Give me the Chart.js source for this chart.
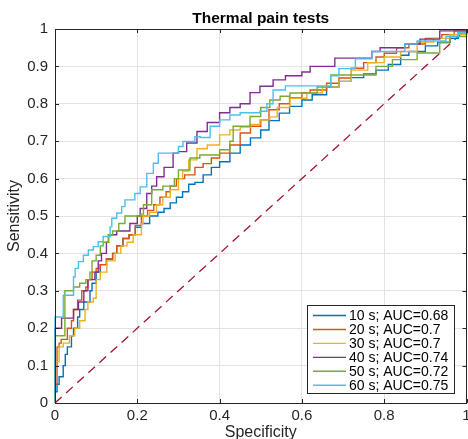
<!DOCTYPE html>
<html>
<head>
<meta charset="utf-8">
<script src="https://cdn.jsdelivr.net/npm/chart.js@4/dist/chart.umd.min.js"></script>
<style>
html,body{margin:0;padding:0;background:#fff;}
canvas{display:block;}
</style>
</head>
<body>
<canvas id="c" width="468" height="439"></canvas>
<script>
// ---- chart text ----
const chartTitle = "Thermal pain tests";
const xTitle = "Specificity";
const yTitle = "Sensitivity";
const seriesLabels = ["10 s; AUC=0.68", "20 s; AUC=0.7", "30 s; AUC=0.7", "40 s; AUC=0.74", "50 s; AUC=0.72", "60 s; AUC=0.75"];
const seriesColors = ["#0072BD", "#D95319", "#EDB120", "#7E2F8E", "#77AC30", "#4DBEEE"];
const xTicks = [0, 0.2, 0.4, 0.6, 0.8, 1];
const yTicks = [0, 0.1, 0.2, 0.3, 0.4, 0.5, 0.6, 0.7, 0.8, 0.9, 1];

// ---- ROC curves (x = horizontal axis value, y = sensitivity) ----
const x10 = [0,0,0.005,0.01,0.02,0.025,0.03,0.04,0.045,0.055,0.06,0.07,0.085,0.09,0.10,0.11,0.125,0.14,0.15,0.165,0.18,0.195,0.21,0.23,0.25,0.265,0.28,0.295,0.31,0.325,0.34,0.36,0.38,0.40,0.425,0.45,0.475,0.50,0.52,0.545,0.57,0.60,0.625,0.66,0.69,0.72,0.75,0.78,0.81,0.84,0.86,0.90,0.93,0.96,0.98,1];
const y10 = [0,0.03,0.05,0.07,0.10,0.13,0.15,0.18,0.20,0.23,0.25,0.27,0.30,0.32,0.35,0.37,0.385,0.40,0.42,0.44,0.45,0.47,0.48,0.50,0.51,0.52,0.535,0.55,0.565,0.585,0.59,0.61,0.63,0.645,0.668,0.69,0.709,0.73,0.755,0.775,0.793,0.81,0.824,0.845,0.86,0.87,0.88,0.89,0.905,0.93,0.94,0.955,0.965,0.975,0.99,1];

const x20 = [0,0,0.005,0.01,0.015,0.03,0.04,0.045,0.055,0.065,0.075,0.08,0.09,0.10,0.11,0.125,0.14,0.15,0.165,0.18,0.195,0.21,0.225,0.24,0.255,0.27,0.28,0.295,0.315,0.34,0.36,0.38,0.40,0.425,0.45,0.475,0.50,0.52,0.545,0.57,0.60,0.62,0.66,0.69,0.72,0.75,0.78,0.80,0.83,0.86,0.90,0.94,0.97,1];
const y20 = [0,0.05,0.15,0.16,0.17,0.20,0.22,0.25,0.275,0.30,0.31,0.33,0.35,0.36,0.37,0.385,0.40,0.42,0.44,0.45,0.475,0.50,0.515,0.53,0.55,0.565,0.58,0.60,0.61,0.63,0.64,0.655,0.668,0.69,0.722,0.74,0.757,0.784,0.80,0.816,0.83,0.837,0.855,0.869,0.895,0.91,0.925,0.935,0.95,0.96,0.975,0.985,0.995,1];

const x30 = [0,0,0.01,0.02,0.035,0.048,0.06,0.073,0.08,0.093,0.10,0.11,0.126,0.146,0.16,0.175,0.19,0.21,0.214,0.23,0.247,0.262,0.28,0.30,0.31,0.325,0.345,0.37,0.40,0.425,0.45,0.475,0.498,0.522,0.54,0.571,0.612,0.65,0.69,0.72,0.76,0.80,0.84,0.88,0.92,0.96,1];
const y30 = [0,0.11,0.15,0.16,0.18,0.20,0.22,0.25,0.27,0.28,0.33,0.35,0.38,0.40,0.42,0.43,0.45,0.48,0.50,0.51,0.53,0.55,0.57,0.60,0.62,0.65,0.68,0.69,0.717,0.73,0.738,0.745,0.757,0.765,0.79,0.815,0.829,0.845,0.86,0.89,0.91,0.925,0.94,0.965,0.975,0.985,1];

const x40 = [0,0,0.016,0.04,0.045,0.057,0.07,0.08,0.097,0.105,0.113,0.125,0.13,0.15,0.182,0.2,0.207,0.223,0.235,0.247,0.265,0.287,0.30,0.32,0.345,0.37,0.40,0.425,0.45,0.474,0.498,0.53,0.56,0.60,0.62,0.68,0.77,0.79,0.85,0.887,0.935,1];
const y40 = [0,0.20,0.227,0.227,0.25,0.27,0.30,0.33,0.35,0.38,0.40,0.43,0.45,0.46,0.48,0.50,0.52,0.56,0.58,0.605,0.63,0.668,0.672,0.695,0.726,0.75,0.776,0.79,0.80,0.83,0.847,0.864,0.875,0.885,0.90,0.922,0.94,0.95,0.96,0.973,0.995,1];

const x50 = [0,0,0.024,0.045,0.06,0.075,0.085,0.09,0.10,0.11,0.117,0.13,0.14,0.155,0.17,0.207,0.215,0.235,0.262,0.29,0.30,0.328,0.352,0.40,0.425,0.433,0.474,0.50,0.522,0.547,0.571,0.637,0.67,0.75,0.78,0.82,0.88,0.935,0.96,1];
const y50 = [0,0.18,0.30,0.31,0.32,0.33,0.35,0.38,0.395,0.42,0.43,0.45,0.46,0.48,0.50,0.505,0.53,0.57,0.58,0.60,0.623,0.655,0.663,0.677,0.70,0.74,0.766,0.79,0.81,0.82,0.829,0.845,0.877,0.877,0.90,0.918,0.936,0.963,0.98,1];

const x60 = [0,0,0.02,0.045,0.049,0.057,0.069,0.081,0.093,0.105,0.117,0.134,0.138,0.15,0.162,0.17,0.194,0.207,0.223,0.239,0.251,0.287,0.30,0.311,0.34,0.353,0.377,0.40,0.425,0.45,0.498,0.515,0.53,0.56,0.65,0.67,0.69,0.73,0.77,0.85,0.88,0.95,0.98,1];
const y60 = [0,0.23,0.288,0.337,0.36,0.378,0.395,0.409,0.418,0.431,0.445,0.471,0.494,0.508,0.525,0.543,0.56,0.578,0.614,0.641,0.668,0.668,0.686,0.699,0.712,0.71,0.74,0.757,0.77,0.776,0.78,0.80,0.837,0.848,0.848,0.875,0.894,0.92,0.94,0.96,0.968,0.98,0.99,1];

const chanceX = [0, 1];
const chanceY = [0, 1];

const xs = [x10, x20, x30, x40, x50, x60];
const ys = [y10, y20, y30, y40, y50, y60];

function pts(xa, ya) { return xa.map((v, i) => ({ x: v, y: ya[i] })); }

const datasets = xs.map((xa, i) => ({
  label: seriesLabels[i],
  data: pts(xa, ys[i]),
  borderColor: seriesColors[i],
  backgroundColor: seriesColors[i],
  borderWidth: 1.4,
  pointRadius: 0,
  stepped: true,
  fill: false,
  order: 6 - i,
  clip: 2
}));
datasets.push({
  label: "chance",
  data: pts(chanceX, chanceY),
  borderColor: "#A2142F",
  borderWidth: 1.3,
  borderDash: [9, 6],
  pointRadius: 0,
  fill: false,
  order: 10
});

const FONT = "'Liberation Sans', Arial, Helvetica, sans-serif";
const DARK = "#262626";

const decor = {
  id: "decor",
  afterDraw(chart) {
    const ctx = chart.ctx;
    const a = chart.chartArea;
    const xs_ = chart.scales.x, ys_ = chart.scales.y;
    ctx.save();
    // inner ticks
    ctx.strokeStyle = DARK;
    ctx.lineWidth = 1;
    ctx.beginPath();
    xTicks.forEach(v => {
      const px = Math.round(xs_.getPixelForValue(v)) + 0.5;
      ctx.moveTo(px, a.bottom); ctx.lineTo(px, a.bottom - 4);
      ctx.moveTo(px, a.top); ctx.lineTo(px, a.top + 4);
    });
    yTicks.forEach(v => {
      const py = Math.round(ys_.getPixelForValue(v)) + 0.5;
      ctx.moveTo(a.left, py); ctx.lineTo(a.left + 4, py);
      ctx.moveTo(a.right, py); ctx.lineTo(a.right - 4, py);
    });
    ctx.stroke();
    // box
    ctx.strokeRect(Math.round(a.left) + 0.5, Math.round(a.top) + 0.5, Math.round(a.right - a.left) - 1, Math.round(a.bottom - a.top));
    // title
    ctx.fillStyle = "#000";
    ctx.font = "bold 15.5px " + FONT;
    ctx.textAlign = "center";
    ctx.textBaseline = "alphabetic";
    ctx.fillText(chartTitle, (a.left + a.right) / 2, 22.5);
    // axis titles
    ctx.fillStyle = DARK;
    ctx.font = "16px " + FONT;
    ctx.fillText(xTitle, (a.left + a.right) / 2, 437);
    ctx.save();
    ctx.translate(15, (a.top + a.bottom) / 2);
    ctx.rotate(-Math.PI / 2);
    ctx.textBaseline = "middle";
    ctx.fillText(yTitle, 0, 0);
    ctx.restore();
    // legend
    const lx = 307, ly = 305, lw = 147, lh = 88;
    ctx.fillStyle = "#fff";
    ctx.fillRect(lx, ly, lw, lh);
    ctx.strokeStyle = DARK;
    ctx.lineWidth = 1;
    ctx.strokeRect(lx + 0.5, ly + 0.5, lw, lh);
    ctx.font = "14px " + FONT;
    ctx.textAlign = "left";
    ctx.textBaseline = "middle";
    seriesLabels.forEach((lab, i) => {
      const yy = ly + 10.5 + i * 13.95;
      ctx.strokeStyle = seriesColors[i];
      ctx.lineWidth = 1.4;
      ctx.beginPath();
      ctx.moveTo(313, yy); ctx.lineTo(346, yy);
      ctx.stroke();
      ctx.fillStyle = "#000";
      ctx.fillText(lab, 349, yy + 0.5);
    });
    ctx.restore();
  }
};

const fmt = v => String(parseFloat(Number(v).toFixed(2)));

new Chart(document.getElementById("c"), {
  type: "line",
  data: { datasets },
  options: {
    responsive: false,
    devicePixelRatio: 1,
    animation: false,
    events: [],
    layout: { padding: { top: 29, right: 1.5, left: 0, bottom: 0 } },
    plugins: { legend: { display: false }, title: { display: false }, tooltip: { enabled: false } },
    scales: {
      x: {
        type: "linear", min: 0, max: 1,
        afterFit: s => { s.height = 36; s.paddingLeft = 0; s.paddingRight = 0; },
        afterBuildTicks: s => { s.ticks = xTicks.map(v => ({ value: v })); },
        grid: { color: "#e3e3e3", drawTicks: false, lineWidth: 1 },
        border: { display: false },
        ticks: { color: DARK, font: { family: FONT, size: 15 }, padding: 4, autoSkip: false, maxRotation: 0, callback: fmt }
      },
      y: {
        type: "linear", min: 0, max: 1,
        afterFit: s => { s.width = 55; s.paddingTop = 0; s.paddingBottom = 0; },
        afterBuildTicks: s => { s.ticks = yTicks.map(v => ({ value: v })); },
        grid: { color: "#e3e3e3", drawTicks: false, lineWidth: 1 },
        border: { display: false },
        ticks: { color: DARK, font: { family: FONT, size: 15 }, padding: 7, autoSkip: false, callback: fmt }
      }
    }
  },
  plugins: [decor]
});
</script>
</body>
</html>
